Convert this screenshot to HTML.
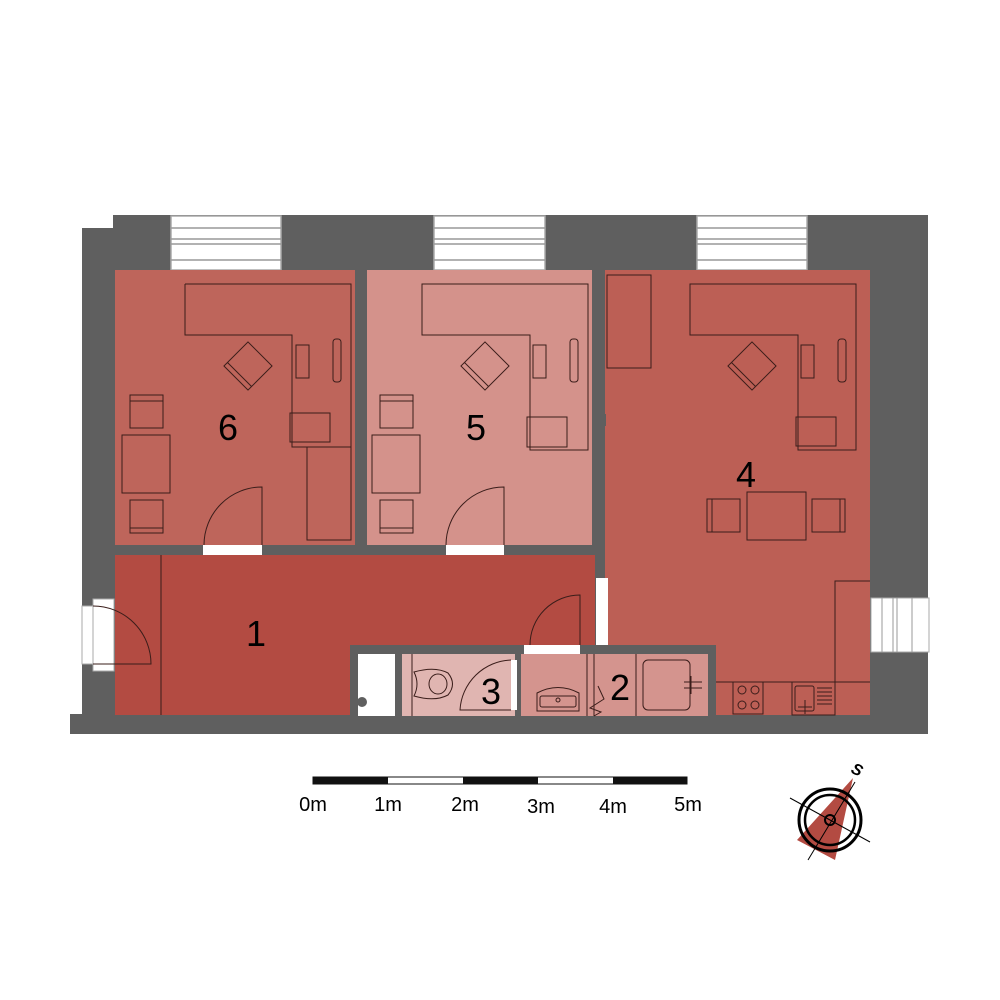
<!DOCTYPE html>
<html><head><style>html,body{margin:0;padding:0;background:#fff}svg{display:block}</style></head>
<body>
<svg width="1000" height="1000" viewBox="0 0 1000 1000" xmlns="http://www.w3.org/2000/svg" font-family="Liberation Sans, sans-serif">
<g fill="#5f5f5f">
<rect x="82" y="228" width="40" height="500"/>
<rect x="113" y="215" width="815" height="502"/>
<rect x="70" y="714" width="800" height="20"/>
<rect x="860" y="700" width="68" height="34"/>
</g>
<g fill="#fff" stroke="#aaa" stroke-width="1.5">
<rect x="171" y="216" width="110" height="54"/>
<rect x="434" y="216" width="111" height="54"/>
<rect x="697" y="216" width="110" height="54"/>
</g>
<g stroke="#999" stroke-width="1.5">
<line x1="171" y1="228" x2="281" y2="228"/><line x1="171" y1="239" x2="281" y2="239"/><line x1="171" y1="244" x2="281" y2="244"/><line x1="171" y1="260" x2="281" y2="260"/>
<line x1="434" y1="228" x2="545" y2="228"/><line x1="434" y1="239" x2="545" y2="239"/><line x1="434" y1="244" x2="545" y2="244"/><line x1="434" y1="260" x2="545" y2="260"/>
<line x1="697" y1="228" x2="807" y2="228"/><line x1="697" y1="239" x2="807" y2="239"/><line x1="697" y1="244" x2="807" y2="244"/><line x1="697" y1="260" x2="807" y2="260"/>
</g>
<rect x="871" y="598" width="58" height="54" fill="#fff" stroke="#aaa"/>
<g stroke="#999"><line x1="882" y1="598" x2="882" y2="652"/><line x1="893" y1="598" x2="893" y2="652"/><line x1="897" y1="598" x2="897" y2="652"/><line x1="912" y1="598" x2="912" y2="652"/></g>
<rect x="115" y="270" width="240" height="275" fill="#be655b"/>
<rect x="367" y="270" width="225" height="275" fill="#d4928b"/>
<rect x="605" y="270" width="265" height="445" fill="#bc5f55"/>
<rect x="598" y="414" width="8" height="12" fill="#5f5f5f"/>
<rect x="115" y="555" width="480" height="160" fill="#b34b42"/>
<rect x="596" y="578" width="12" height="67" fill="#fff"/>
<rect x="350" y="645" width="366" height="71" fill="#5f5f5f"/>
<rect x="358" y="654" width="37" height="62" fill="#fff"/>
<circle cx="362" cy="702" r="5" fill="#5f5f5f"/>
<rect x="402" y="654" width="113" height="62" fill="#e0b5b1"/>
<rect x="511" y="660" width="6" height="50" fill="#fff"/>
<rect x="521" y="654" width="187" height="62" fill="#d4948e"/>
<rect x="524" y="645" width="56" height="9" fill="#fff"/>
<rect x="203" y="545" width="59" height="10" fill="#fff"/>
<rect x="446" y="545" width="58" height="10" fill="#fff"/>
<rect x="82" y="606" width="12" height="58" fill="#fff" stroke="#aaa"/>
<rect x="93" y="599" width="21" height="72" fill="#fff" stroke="#aaa"/>
<g fill="none" stroke="#3a1d1a" stroke-width="1">
<path d="M262,545 V487 A58,58 0 0 0 204,545"/>
<path d="M504,545 V487 A58,58 0 0 0 446,545"/>
<path d="M580,645 V595 A50,50 0 0 0 530,645"/>
<path d="M93,606 A58,58 0 0 1 151,664 H93"/>
<path d="M511,660 A53,53 0 0 0 460,710 H511"/>
<line x1="161" y1="555" x2="161" y2="715"/>
<path d="M185,284 H351 V447 M185,284 V335 H292 V447 H351"/>
<rect x="307" y="447" width="44" height="93"/>
<rect x="290" y="413" width="40" height="29"/>
<rect x="296" y="345" width="13" height="33"/>
<rect x="333" y="339" width="8" height="43" rx="3"/>
<g transform="translate(248,366) rotate(45)"><rect x="-17" y="-17" width="34" height="34"/><line x1="-17" y1="12" x2="17" y2="12"/></g>
<rect x="130" y="395" width="33" height="33"/><line x1="130" y1="401" x2="163" y2="401"/>
<rect x="122" y="435" width="48" height="58"/>
<rect x="130" y="500" width="33" height="33"/><line x1="130" y1="528" x2="163" y2="528"/>
<path d="M422,284 H588 V450 H530 V335 H422 Z"/>
<rect x="527" y="417" width="40" height="30"/>
<rect x="533" y="345" width="13" height="33"/>
<rect x="570" y="339" width="8" height="43" rx="3"/>
<g transform="translate(485,366) rotate(45)"><rect x="-17" y="-17" width="34" height="34"/><line x1="-17" y1="12" x2="17" y2="12"/></g>
<rect x="380" y="395" width="33" height="33"/><line x1="380" y1="401" x2="413" y2="401"/>
<rect x="372" y="435" width="48" height="58"/>
<rect x="380" y="500" width="33" height="33"/><line x1="380" y1="528" x2="413" y2="528"/>
<rect x="607" y="275" width="44" height="93"/>
<path d="M690,284 H856 V450 H798 V335 H690 Z"/>
<rect x="796" y="417" width="40" height="29"/>
<rect x="801" y="345" width="13" height="33"/>
<rect x="838" y="339" width="8" height="43" rx="3"/>
<g transform="translate(752,366) rotate(45)"><rect x="-17" y="-17" width="34" height="34"/><line x1="-17" y1="12" x2="17" y2="12"/></g>
<rect x="747" y="492" width="59" height="48"/>
<rect x="707" y="499" width="33" height="33"/><line x1="712" y1="499" x2="712" y2="532"/>
<rect x="812" y="499" width="33" height="33"/><line x1="840" y1="499" x2="840" y2="532"/>
<path d="M835,715 V581 H870 M716,682 H870"/>
<rect x="733" y="682" width="30" height="32"/>
<circle cx="742" cy="690" r="4"/><circle cx="755" cy="690" r="4"/><circle cx="742" cy="705" r="4"/><circle cx="755" cy="705" r="4"/>
<rect x="792" y="682" width="43" height="33"/>
<rect x="795" y="686" width="19" height="25" rx="2"/>
<path d="M817,688 H832 M817,692 H832 M817,696 H832 M817,700 H832 M817,704 H832"/>
<path d="M798,707 H812 M805,700 V714"/>
<line x1="412" y1="654" x2="412" y2="716"/>
<path d="M414,672 Q435,666 448,673 Q457,684 448,695 Q435,702 414,696 Q420,684 414,672 Z"/>
<ellipse cx="438" cy="684" rx="9" ry="10"/>
<line x1="587" y1="654" x2="587" y2="716"/><line x1="594" y1="654" x2="594" y2="716"/>
<line x1="636" y1="654" x2="636" y2="716"/>
<path d="M537,711 V693 Q558,682 579,693 V711 Z"/><rect x="540" y="696" width="36" height="11" rx="2"/>
<circle cx="558" cy="700" r="2"/>
<path d="M598,686 L604,699 L590,708 L601,712 L594,716"/>
<rect x="643" y="660" width="47" height="50" rx="5"/>
<path d="M684,682 H702 M684,688 H702 M691,676 V694"/>
</g>
<g font-size="36" fill="#000" text-anchor="middle">
<text x="228" y="440">6</text>
<text x="476" y="440">5</text>
<text x="746" y="487">4</text>
<text x="256" y="646">1</text>
<text x="491" y="704">3</text>
<text x="620" y="700">2</text>
</g>
<rect x="313" y="777" width="374" height="7" fill="#fff" stroke="#111" stroke-width="1"/>
<rect x="313" y="777" width="75" height="7" fill="#111"/>
<rect x="463" y="777" width="75" height="7" fill="#111"/>
<rect x="613" y="777" width="74" height="7" fill="#111"/>
<g font-size="20" fill="#000" text-anchor="middle">
<text x="313" y="811">0m</text><text x="388" y="811">1m</text><text x="465" y="811">2m</text><text x="541" y="813">3m</text><text x="613" y="813">4m</text><text x="688" y="811">5m</text>
</g>
<polygon points="853,778 797,840 835,860" fill="#b34b42"/>
<circle cx="830" cy="820" r="31" fill="none" stroke="#000" stroke-width="3"/>
<circle cx="830" cy="820" r="25" fill="none" stroke="#000" stroke-width="2.5"/>
<circle cx="830" cy="820" r="5" fill="none" stroke="#000" stroke-width="2"/>
<line x1="790" y1="798" x2="870" y2="842" stroke="#000" stroke-width="1"/>
<line x1="808" y1="860" x2="855" y2="782" stroke="#000" stroke-width="1"/>
<text x="857" y="775" font-size="16" font-weight="bold" font-style="italic" text-anchor="middle" transform="rotate(25 857 770)">S</text>
</svg>
</body></html>
